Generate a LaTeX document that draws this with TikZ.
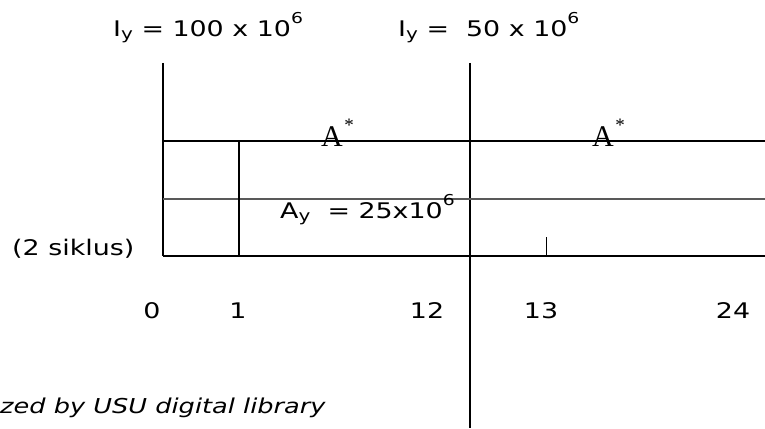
\documentclass[tikz,border=0pt]{standalone}
\usepackage{fontspec}
\setmainfont{DejaVu Sans}[FakeStretch=1.25]
\newfontfamily\serifA{Liberation Serif}
\newcommand\mysub[1]{\raisebox{-3pt}{\fontsize{16}{16}\selectfont #1}}
\newcommand\mysup[1]{\raisebox{13pt}{\fontsize{15}{15}\selectfont #1}}
\newcommand\mystar{\kern1.5pt\raisebox{14.5pt}{\fontsize{19}{19}\selectfont *}}
\begin{document}
\begin{tikzpicture}[x=1pt,y=-1pt,
  lbl/.style={inner sep=0pt,font=\fontsize{21.5}{26}\selectfont},
  num/.style={lbl,anchor=base},
  astar/.style={inner sep=0pt,anchor=base west,font=\serifA\fontsize{30}{34}\selectfont},
  mainline/.style={line width=1.3pt,black},
  midline/.style={line width=1.6pt,black!65},
  tick/.style={line width=0.8pt,black}]
\useasboundingbox (0,0) rectangle (765,428);
% lines
\coordinate (Ltop) at (163,63);
\coordinate (Lbot) at (163,256);
\coordinate (Mtop) at (470,63);
\coordinate (Mbot) at (470,428);
\draw[mainline] (Ltop) -- (Lbot);
\draw[mainline] (Mtop) -- (Mbot);
\draw[mainline] (163,141) -- (765,141);
\draw[midline] (163,199) -- (765,199);
\draw[mainline] (Lbot) -- (765,256);
\draw[mainline] (239,141) -- (239,256);
\draw[tick] (546,237) -- (546,256);
% texts
\node[lbl,anchor=base west] (iy1) at (113,37) {I\mysub{y} = 100 x 10\mysup{6}};
\node[lbl,anchor=base west] (iy2) at (398,37) {I\mysub{y} = \ 50 x 10\mysup{6}};
\node[astar] (a1) at (321,146) {A\mystar};
\node[astar] (a2) at (592,146) {A\mystar};
\node[lbl,anchor=base west] (ay) at (280,218) {A\mysub{y} \ = 25x10\mysup{6}};
\node[lbl,anchor=base west] (sik) at (12,255) {(2 siklus)};
\node[num] (n0) at (152,318) {0};
\node[num] (n1) at (238,318) {1};
\node[num] (n12) at (427,318) {12};
\node[num] (n13) at (541,318) {13};
\node[num] (n24) at (733,318) {24};
\node[lbl,anchor=base west,font=\fontsize{20.5}{25}\selectfont\itshape] (foot) at (0,413) {zed by USU digital library};
\end{tikzpicture}
\end{document}
